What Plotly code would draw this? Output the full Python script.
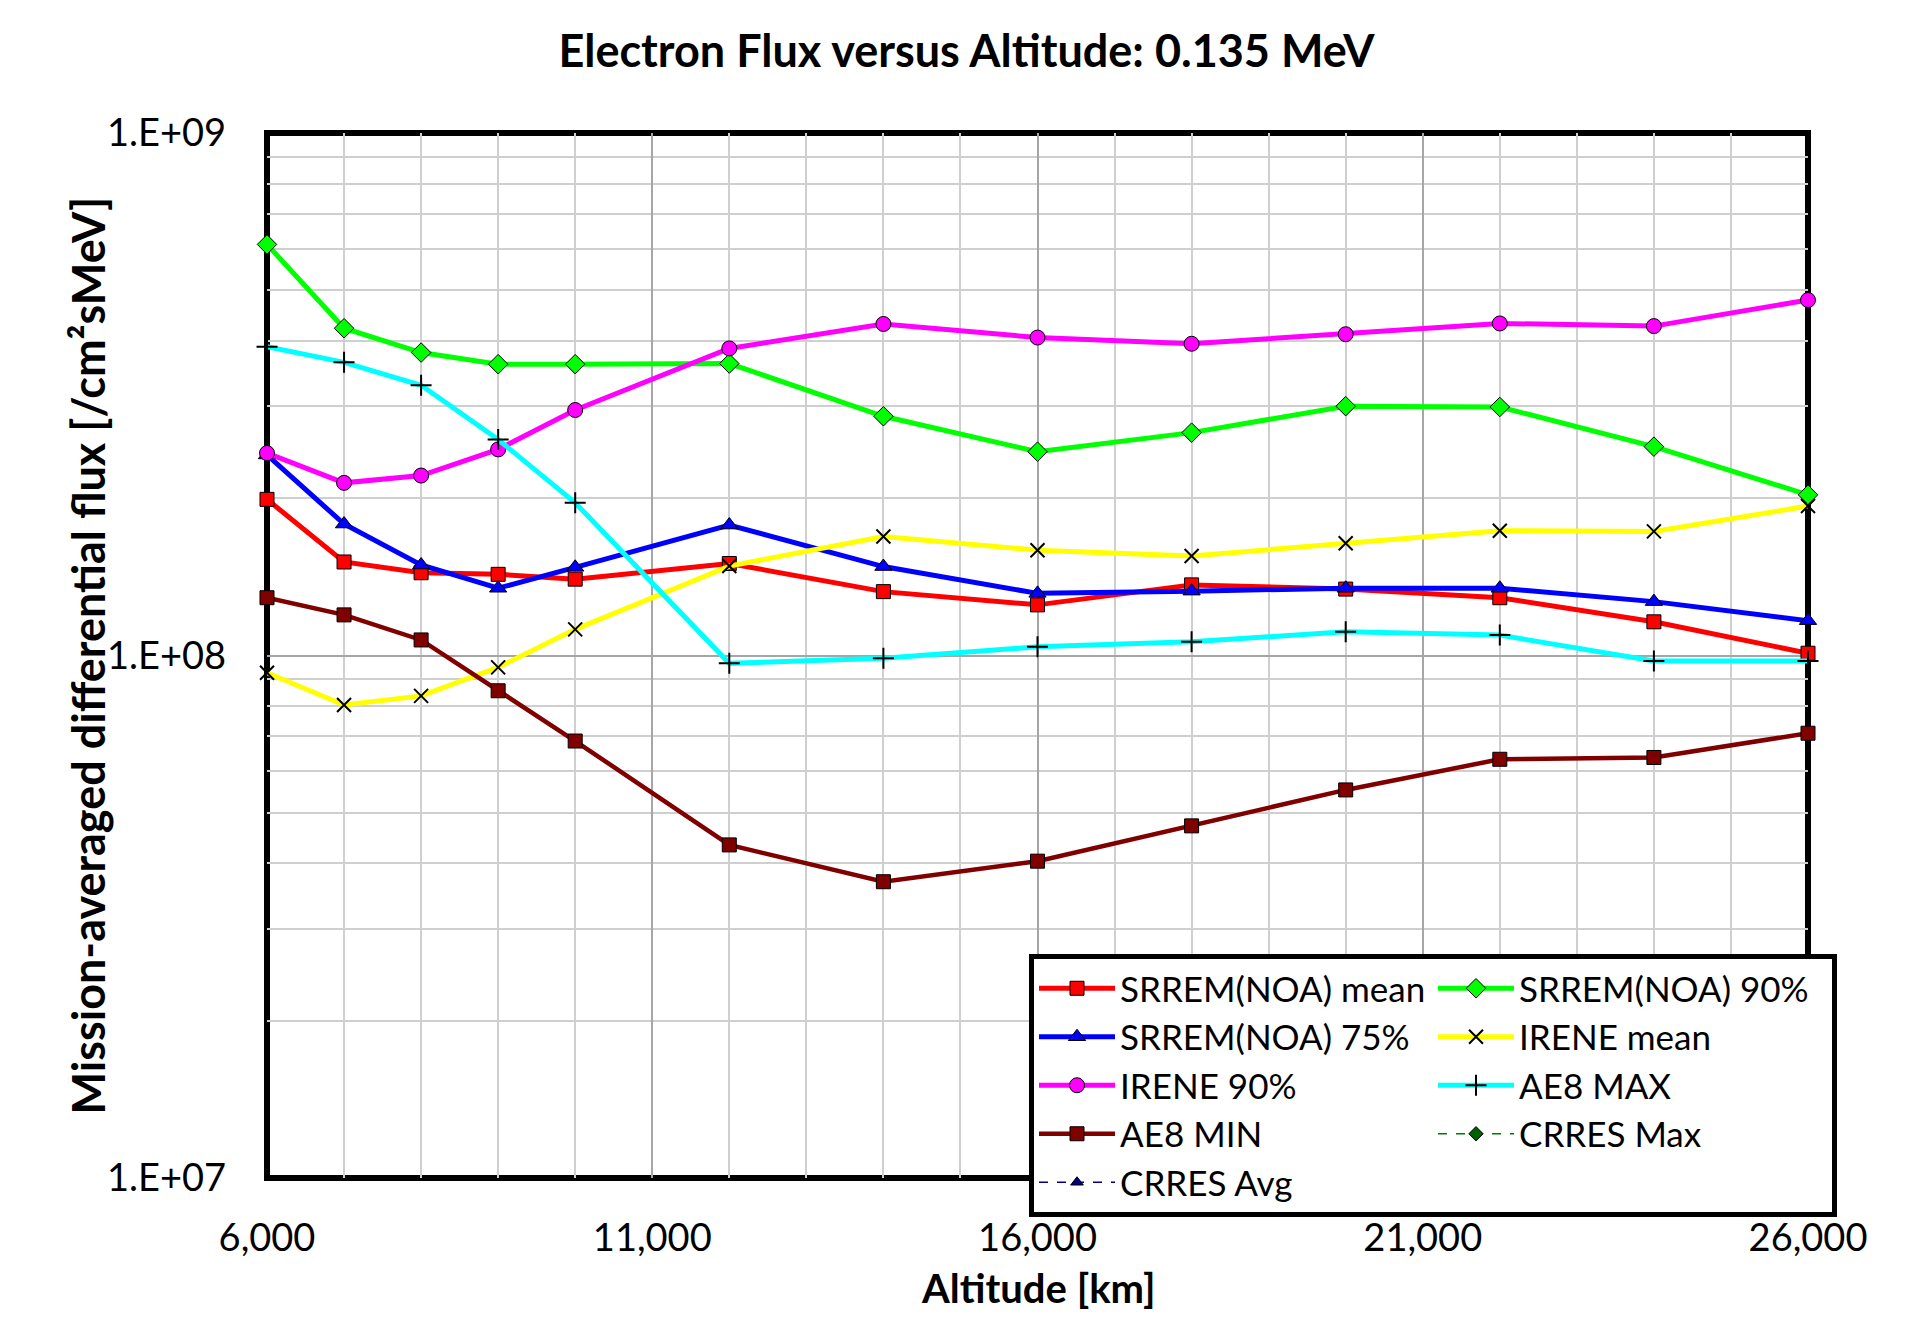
import plotly.graph_objects as go

# Altitude grid [km]
altitude = [6000, 7000, 8000, 9000, 10000, 12000, 14000, 16000, 18000, 20000, 22000, 24000, 26000]

# Mission-averaged differential flux [/cm2 s MeV] at 0.135 MeV
srrem_mean = [1.99e8, 1.51e8, 1.44e8, 1.43e8, 1.40e8, 1.50e8, 1.325e8, 1.25e8, 1.365e8, 1.34e8, 1.29e8, 1.16e8, 1.01e8]
srrem_90 = [6.12e8, 4.23e8, 3.80e8, 3.61e8, 3.61e8, 3.62e8, 2.87e8, 2.455e8, 2.67e8, 3.00e8, 2.99e8, 2.51e8, 2.03e8]
srrem_75 = [2.42e8, 1.785e8, 1.49e8, 1.345e8, 1.475e8, 1.777e8, 1.48e8, 1.315e8, 1.328e8, 1.345e8, 1.345e8, 1.268e8, 1.166e8]
irene_mean = [9.27e7, 8.04e7, 8.37e7, 9.49e7, 1.122e8, 1.483e8, 1.69e8, 1.59e8, 1.55e8, 1.64e8, 1.733e8, 1.728e8, 1.932e8]
irene_90 = [2.44e8, 2.14e8, 2.21e8, 2.48e8, 2.95e8, 3.87e8, 4.31e8, 4.06e8, 3.95e8, 4.12e8, 4.32e8, 4.27e8, 4.79e8]
ae8_max = [3.90e8, 3.64e8, 3.29e8, 2.59e8, 1.96e8, 9.66e7, 9.88e7, 1.039e8, 1.063e8, 1.11e8, 1.094e8, 9.76e7, 9.76e7]
ae8_min = [1.29e8, 1.196e8, 1.071e8, 8.56e7, 6.86e7, 4.34e7, 3.69e7, 4.04e7, 4.72e7, 5.53e7, 6.33e7, 6.38e7, 7.10e7]
# CRRES models have no values in this altitude range (legend entries only)
crres_max = [None] * len(altitude)
crres_avg = [None] * len(altitude)

x_tick_vals = [6000, 11000, 16000, 21000, 26000]
x_tick_text = ["6,000", "11,000", "16,000", "21,000", "26,000"]
y_tick_vals = [1e7, 1e8, 1e9]
y_tick_text = ["1.E+07", "1.E+08", "1.E+09"]

FONT = "Lato"

series = [
    ("SRREM(NOA) mean", srrem_mean, "#FF0000", "square", "#FF0000", 5, "solid", 14),
    ("SRREM(NOA) 90%", srrem_90, "#00FF00", "diamond", "#00FF00", 5, "solid", 15),
    ("SRREM(NOA) 75%", srrem_75, "#0000FF", "triangle-up", "#0000FF", 5, "solid", 15),
    ("IRENE mean", irene_mean, "#FFFF00", "x-thin-open", "#000000", 5, "solid", 14),
    ("IRENE 90%", irene_90, "#FF00FF", "circle", "#FF00FF", 5, "solid", 15),
    ("AE8 MAX", ae8_max, "#00FFFF", "cross-thin-open", "#000000", 5, "solid", 15),
    ("AE8 MIN", ae8_min, "#800000", "square", "#800000", 4.5, "solid", 14),
    ("CRRES Max", crres_max, "#007A00", "diamond", "#006000", 1.5, "dash", 11),
    ("CRRES Avg", crres_avg, "#000080", "triangle-up", "#000080", 1.5, "dash", 11),
]

fig = go.Figure()
for name, vals, color, sym, fill, lw, dash, msize in series:
    open_sym = sym.endswith("open")
    fig.add_trace(go.Scatter(
        x=altitude, y=vals, name=name, mode="lines+markers",
        line=dict(color=color, width=lw, dash=dash),
        marker=dict(
            symbol=sym, size=msize,
            color="#000000" if open_sym else fill,
            line=dict(color="#000000", width=2 if open_sym else 1),
        ),
        cliponaxis=False,
    ))

fig.update_layout(
    width=1910, height=1317,
    margin=dict(l=267, r=102, t=133, b=139, autoexpand=False),
    paper_bgcolor="white", plot_bgcolor="white",
    font=dict(family=FONT, color="#000000"),
    title=dict(
        text="Electron Flux versus Altitude: 0.135 MeV",
        font=dict(family=FONT, size=45, weight="bold", color="#000000"),
        x=0.506, xanchor="center", y=1 - 51 / 1317, yanchor="middle",
    ),
    xaxis=dict(
        type="linear", range=[6000, 26000],
        tickmode="array", tickvals=x_tick_vals, ticktext=x_tick_text,
        tickfont=dict(family=FONT, size=38),
        ticks="", ticklabelstandoff=34,
        showgrid=True, gridcolor="#A6A6A6", gridwidth=2,
        minor=dict(tickmode="array", tickvals=list(range(6000, 26001, 1000)),
                   showgrid=True, gridcolor="#CFCFCF", gridwidth=2, ticks=""),
        zeroline=False, showline=False,
    ),
    yaxis=dict(
        type="log", range=[7, 9],
        tickmode="array", tickvals=y_tick_vals, ticktext=y_tick_text,
        tickfont=dict(family=FONT, size=38),
        ticks="", ticklabelstandoff=40,
        showgrid=True, gridcolor="#A6A6A6", gridwidth=2,
        minor=dict(tickmode="array",
                   tickvals=[m * 10 ** e for e in (7, 8) for m in range(2, 10)],
                   showgrid=True, gridcolor="#CFCFCF", gridwidth=2, ticks=""),
        zeroline=False, showline=False,
    ),
    legend=dict(
        orientation="h",
        x=(1837 - 267) / 1541, xanchor="right",
        y=(1178 - 954) / 1045, yanchor="top",
        bgcolor="white", bordercolor="#000000", borderwidth=5,
        font=dict(family=FONT, size=35, color="#000000"),
        itemwidth=76, entrywidth=308, entrywidthmode="pixels",
        itemsizing="trace", traceorder="normal",
    ),
    showlegend=True,
    annotations=[
        dict(text="Altitude [km]", xref="paper", yref="paper",
             x=0.5, y=(1178 - 1288) / 1045, xanchor="center", yanchor="middle",
             showarrow=False, font=dict(family=FONT, size=40, weight="bold")),
        dict(text="Mission-averaged differential flux [/cm²sMeV]", xref="paper", yref="paper",
             x=(87 - 267) / 1541, y=0.5, xanchor="center", yanchor="middle", textangle=-90,
             showarrow=False, font=dict(family=FONT, size=45, weight="bold")),
    ],
    shapes=[dict(type="rect", xref="paper", yref="paper", x0=0, y0=0, x1=1, y1=1,
                 line=dict(color="#000000", width=6), layer="between")],
)

fig.write_html("out.html")
